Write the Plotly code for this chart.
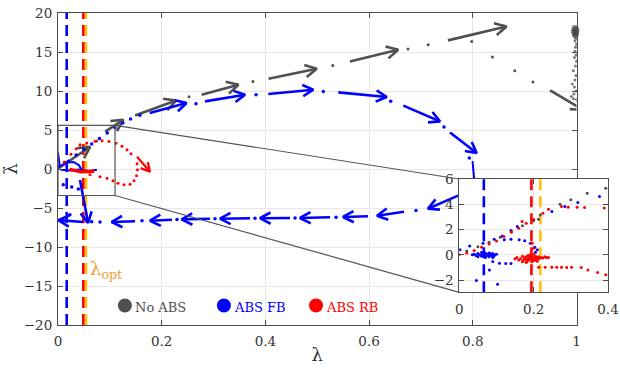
import math
import plotly.graph_objects as go

# ---------------- data ----------------
thr_colors = ["#0000FF", "#FFC000", "#FF0000"]
thr_main = [0.0168, 0.0540, 0.0488]
thr_inset = [0.066, 0.218, 0.194]

gray_tx = [0.002, 0.091, 0.1485, 0.277, 0.406, 0.563, 0.752, 0.949]
gray_ty = [0.15, 4.8, 6.86, 9.53, 11.58, 13.79, 16.49, 10.08]
gray_hx = [0.062, 0.126, 0.2276, 0.348, 0.499, 0.656, 0.865, 1.012]
gray_hy = [2.85, 6.3, 8.78, 10.8, 12.86, 15.29, 18.28, 7.6]
gray_px = [0.075, 0.2527, 0.376, 0.530, 0.675, 0.714, 0.798, 0.838, 0.881, 0.916]
gray_py = [3.6, 9.27, 11.23, 13.28, 15.38, 15.94, 16.36, 14.36, 12.6, 11.15]
gray_cx = [0.997, 0.999, 0.995, 0.998, 1.0, 0.996, 0.999, 0.997, 1.0, 0.998, 0.997, 0.999,
           0.996, 1.0, 0.998, 0.994, 0.999, 0.997, 0.992, 0.996, 0.999, 0.995, 0.99, 0.994]
gray_cy = [18.0, 17.8, 17.6, 17.4, 17.3, 17.1, 16.8, 16.4, 16.0, 15.6, 15.1, 14.6,
           14.3, 13.8, 13.2, 12.6, 12.0, 11.4, 10.9, 10.5, 10.0, 9.6, 9.3, 9.0]
gray_cs = [7, 7, 6, 6, 5, 5, 4, 3, 3, 3, 3, 3, 3, 3, 3, 3, 3, 3, 3, 3, 3, 3, 3, 3]

blue_tx = [0.177, 0.2835, 0.4056, 0.5406, 0.666, 0.756, 0.7715, 0.6673, 0.5979, 0.5246,
           0.4474, 0.3703, 0.2931, 0.2199, 0.1485, 0.0488, 0.0424]
blue_ty = [7.18, 8.67, 9.62, 9.82, 8.12, 4.69, -3.42, -5.47, -6.05, -6.18,
           -6.28, -6.31, -6.37, -6.5, -6.69, -6.79, -1.4]
blue_hx = [0.248, 0.3607, 0.4924, 0.634, 0.7367, 0.8075, 0.7136, 0.6152, 0.5497, 0.4667,
           0.3895, 0.3124, 0.2386, 0.1774, 0.1036, 0.001, 0.058]
blue_hy = [8.46, 9.53, 10.17, 9.23, 6.10, 2.05, -5.09, -5.99, -6.15, -6.28,
           -6.31, -6.37, -6.46, -6.63, -6.79, -6.56, -6.9]
blue_px = [0.02, 0.035, 0.05, 0.065, 0.08, 0.095, 0.11, 0.125, 0.14, 0.158,
           0.266, 0.382, 0.5117, 0.6417, 0.7445, 0.7933,
           0.6904, 0.5362, 0.4571, 0.3799, 0.3028, 0.2295, 0.162, 0.081, 0.065,
           0.0102, 0.0264, 0.0392, 0.023]
blue_py = [1.0, 1.8, 2.5, 3.2, 3.9, 4.6, 5.3, 5.9, 6.4, 6.9,
           8.37, 9.53, 9.95, 8.67, 5.38, 1.41,
           -5.32, -6.17, -6.28, -6.31, -6.37, -6.47, -6.65, -6.79, -6.76,
           -2.01, -2.31, -2.56, -5.86]
blue_lx = [0.7995, 0.8025, None, 0.0, 0.003, 0.0, None, 0.003, 0.015, 0.03, 0.04, 0.045, None,
           0.005, 0.025, 0.04, 0.06, 0.075]
blue_ly = [1.0, -1.2, None, 2.1, 0.6, 0.0, None, 0.3, 0.8, 0.9, 0.5, 0.0, None,
           -0.1, -0.2, -0.05, -0.25, -0.1]

red_tx = [0.1524]
red_ty = [1.58]
red_hx = [0.1774]
red_hy = [-0.35]
red_px = [0.012, 0.025, 0.035, 0.0424, 0.0554, 0.0714, 0.0849, 0.0984, 0.1119, 0.1234, 0.1331, 0.1408,
          0.0617, 0.081, 0.0945, 0.106, 0.1157, 0.1273, 0.1389, 0.1466, 0.1514, 0.1533, 0.1524]
red_py = [0.9, 1.9, 2.6, 3.12, 3.33, 3.56, 3.63, 3.54, 3.31, 2.92, 2.47, 1.96,
          -0.73, -0.99, -1.18, -1.5, -1.82, -2.01, -1.95, -1.5, -0.86, -0.09, 0.68]
red_lx = [0.022, 0.045, 0.07]
red_ly = [-0.05, -0.35, -0.3]

in_gray_x = [0.02, 0.05, 0.08, 0.11, 0.14, 0.17, 0.2, 0.213, 0.218, 0.271, 0.30, 0.344, 0.394]
in_gray_y = [0.3, 0.65, 1.0, 1.4, 1.8, 2.3, 2.7, 2.82, 3.16, 4.0, 4.35, 4.88, 5.27]
in_red_x = [0.0, 0.02, 0.04, 0.06, 0.08, 0.1, 0.12, 0.14, 0.16, 0.169, 0.18, 0.2, 0.225,
            0.24, 0.275, 0.293, 0.317, 0.337, 0.39,
            0.2135, 0.231, 0.249, 0.262, 0.275, 0.289, 0.302, 0.328, 0.346, 0.372, 0.394,
            0.196, 0.2,
            0.15, 0.155, 0.16, 0.165, 0.17, 0.172, 0.175, 0.178, 0.18, 0.183, 0.185, 0.188,
            0.19, 0.192, 0.195, 0.198, 0.2, 0.203, 0.205, 0.208, 0.21, 0.213, 0.215, 0.22,
            0.225, 0.23, 0.235, 0.24, 0.17, 0.18, 0.19, 0.2, 0.21, 0.185, 0.195, 0.205]
in_red_y = [0.0, 0.15, 0.35, 0.6, 0.85, 1.1, 1.45, 1.8, 2.1, 2.63, 2.5, 2.8, 3.3,
            3.6, 3.82, 3.77, 3.77, 3.75, 3.7,
            -0.97, -0.97, -0.98, -0.97, -0.97, -0.99, -0.98, -1.0, -1.19, -1.4, -1.58,
            0.92, 0.53,
            -0.3, -0.2, -0.4, -0.3, -0.1, -0.45, -0.25, -0.35, -0.15, -0.5, -0.3, -0.2,
            -0.4, -0.1, -0.3, -0.2, -0.45, -0.25, -0.1, -0.35, -0.2, -0.15, -0.3, -0.2,
            -0.25, -0.15, -0.2, -0.2, -0.55, -0.6, 0.0, 0.05, -0.5, -0.05, -0.55, -0.4]
in_blue_x = [0.002, 0.028, 0.064, 0.094, 0.116, 0.139, 0.156,
             0.121, 0.139, 0.161, 0.176, 0.191, 0.203, 0.21, 0.205,
             0.035, 0.04, 0.045, 0.05, 0.055, 0.06, 0.062, 0.065, 0.068, 0.07, 0.072, 0.075,
             0.078, 0.08, 0.083, 0.085, 0.088, 0.09, 0.093, 0.095, 0.1, 0.05, 0.06, 0.07, 0.08, 0.09,
             0.09, 0.108, 0.125, 0.139, 0.081, 0.046, 0.103,
             0.249, 0.284, 0.319, 0.377]
in_blue_y = [0.4, 0.71, 0.92, 1.24, 1.5, 1.92, 2.24,
             1.19, 1.24, 1.19, 1.11, 0.92, 0.61, 0.4, 0.2,
             0.0, 0.05, -0.05, 0.1, 0.0, -0.1, 0.1, 0.0, -0.05, 0.15, -0.1, 0.05,
             0.0, -0.15, 0.1, -0.05, 0.0, 0.1, -0.1, 0.0, 0.05, -0.15, 0.2, -0.2, 0.15, -0.2,
             -0.53, -0.66, -0.69, -0.69, -1.19, -2.03, -2.32,
             3.42, 3.82, 4.14, 4.61]

legend_names = ["No ABS", "ABS FB", "ABS RB"]
legend_colors = ["#505050", "#0000FF", "#FF0000"]
legend_x = [0.129, 0.320, 0.4976]
legend_y = [-17.5, -17.5, -17.5]

# ---------------- layout geometry ----------------
W, H = 620, 373
ML, MR, MT, MB = 58, 12, 13, 48
PW, PH = W - ML - MR, H - MT - MB
main_dom_x = [0, 518.5 / PW]
inset_dom_x = [(459.3 - ML) / PW, 1.0]
inset_dom_y = [(H - MB - 292.3) / PH, (H - MB - 179) / PH]
XR, YR = [0, 1], [-20, 20]
IXR, IYR = [0, 0.4], [-2.96, 6]
zoom_box = [0, 0.11, -3.4, 5.6]

sx = main_dom_x[1] * PW / (XR[1] - XR[0])
sy = PH / (YR[1] - YR[0])


def arrow_xy(tx, ty, hx, hy, sx, sy, L=11, ang=28):
    xs, ys, hxs, hys = [], [], [], []
    for x0, y0, x1, y1 in zip(tx, ty, hx, hy):
        dx, dy = (x1 - x0) * sx, (y1 - y0) * sy
        n = math.hypot(dx, dy)
        ux, uy = dx / n, dy / n
        xs += [x0, x1, None]
        ys += [y0, y1, None]
        wings = []
        for s in (1, -1):
            a = math.radians(ang * s)
            wx = ux * math.cos(a) - uy * math.sin(a)
            wy = ux * math.sin(a) + uy * math.cos(a)
            wings.append((x1 - L * wx / sx, y1 - L * wy / sy))
        hxs += [wings[0][0], x1, wings[1][0], None]
        hys += [wings[0][1], y1, wings[1][1], None]
    return xs + hxs, ys + hys


fig = go.Figure()
FONT = "DejaVu Serif"

for c, v in zip(thr_colors, thr_main):
    fig.add_trace(go.Scatter(x=[v, v], y=YR, mode="lines",
                             line=dict(color=c, width=2.6, dash="11px,6px"),
                             xaxis="x", yaxis="y", hoverinfo="skip"))

gx, gy = arrow_xy(gray_tx, gray_ty, gray_hx, gray_hy, sx, sy, L=13)
fig.add_trace(go.Scatter(x=gx, y=gy, mode="lines", line=dict(color="#505050", width=2.6),
                         xaxis="x", yaxis="y"))
fig.add_trace(go.Scatter(x=gray_px, y=gray_py, mode="markers",
                         marker=dict(color="#505050", size=3), xaxis="x", yaxis="y"))
fig.add_trace(go.Scatter(x=gray_cx, y=gray_cy, mode="markers", cliponaxis=False,
                         marker=dict(color="#454545", size=gray_cs, line=dict(width=0)),
                         xaxis="x", yaxis="y"))

bx, by = arrow_xy(blue_tx, blue_ty, blue_hx, blue_hy, sx, sy, L=12)
fig.add_trace(go.Scatter(x=blue_lx, y=blue_ly, mode="lines", line=dict(color="#0000FF", width=2),
                         xaxis="x", yaxis="y"))
fig.add_trace(go.Scatter(x=bx, y=by, mode="lines", line=dict(color="#0000FF", width=2.6),
                         xaxis="x", yaxis="y"))
fig.add_trace(go.Scatter(x=blue_px, y=blue_py, mode="markers",
                         marker=dict(color="#0000FF", size=3.5), xaxis="x", yaxis="y"))

rx, ry = arrow_xy(red_tx, red_ty, red_hx, red_hy, sx, sy, L=10)
fig.add_trace(go.Scatter(x=red_lx, y=red_ly, mode="lines", line=dict(color="#FF0000", width=3.5),
                         xaxis="x", yaxis="y"))
fig.add_trace(go.Scatter(x=rx, y=ry, mode="lines", line=dict(color="#FF0000", width=2.2),
                         xaxis="x", yaxis="y"))
fig.add_trace(go.Scatter(x=red_px, y=red_py, mode="markers",
                         marker=dict(color="#FF0000", size=3), xaxis="x", yaxis="y"))

fig.add_trace(go.Scatter(x=legend_x, y=legend_y, mode="markers",
                         marker=dict(color=legend_colors, size=14), xaxis="x", yaxis="y"))

for c, v in zip(thr_colors, thr_inset):
    fig.add_trace(go.Scatter(x=[v, v], y=IYR, mode="lines",
                             line=dict(color=c, width=2.6, dash="11px,6px"),
                             xaxis="x2", yaxis="y2"))
fig.add_trace(go.Scatter(x=in_gray_x, y=in_gray_y, mode="markers",
                         marker=dict(color="#505050", size=3), xaxis="x2", yaxis="y2"))
fig.add_trace(go.Scatter(x=in_blue_x, y=in_blue_y, mode="markers",
                         marker=dict(color="#0000FF", size=3), xaxis="x2", yaxis="y2"))
fig.add_trace(go.Scatter(x=in_red_x, y=in_red_y, mode="markers",
                         marker=dict(color="#FF0000", size=3), xaxis="x2", yaxis="y2"))

box_col = "#555555"
ix0 = inset_dom_x[0] / main_dom_x[1] * (XR[1] - XR[0]) + XR[0]
iy_top = YR[0] + inset_dom_y[1] * (YR[1] - YR[0])
iy_bot = YR[0] + inset_dom_y[0] * (YR[1] - YR[0])
shapes = [
    dict(type="rect", xref="x2", yref="y2", x0=IXR[0], x1=IXR[1], y0=IYR[0], y1=IYR[1],
         fillcolor="white", line=dict(width=0), layer="below"),
    dict(type="rect", xref="x", yref="y", x0=zoom_box[0], x1=zoom_box[1], y0=zoom_box[2], y1=zoom_box[3],
         line=dict(color=box_col, width=1.2), layer="above"),
    dict(type="line", xref="x", yref="y", x0=zoom_box[1], y0=zoom_box[3], x1=ix0, y1=iy_top,
         line=dict(color=box_col, width=1.2), layer="above"),
    dict(type="line", xref="x", yref="y", x0=zoom_box[1], y0=zoom_box[2], x1=ix0, y1=iy_bot,
         line=dict(color=box_col, width=1.2), layer="above"),
]

annotations = [
    dict(x=0.057, y=-13.0, xref="x", yref="y", text="λ<sub>opt</sub>", showarrow=False,
         xanchor="left", yanchor="middle", font=dict(family=FONT, size=18, color="#EE9F2E")),
]
for name, col, lx, ly in zip(legend_names, legend_colors, legend_x, legend_y):
    annotations.append(dict(x=lx + 0.016, y=ly - 0.2, xref="x", yref="y", text=name, showarrow=False,
                            xanchor="left", yanchor="middle",
                            font=dict(family=FONT, size=13, color=col)))

axis_common = dict(showline=True, linecolor="#4d4d4d", linewidth=1, mirror="ticks",
                   ticks="inside", ticklen=5, tickcolor="#4d4d4d", showgrid=True,
                   gridcolor="#e8e8e8", gridwidth=1, zeroline=False, automargin=False,
                   ticklabeloverflow="allow",
                   tickfont=dict(family=FONT, size=13.5, color="#333333"))

fig.update_layout(
    width=W, height=H, margin=dict(l=ML, r=MR, t=MT, b=MB),
    paper_bgcolor="white", plot_bgcolor="white", showlegend=False,
    font=dict(family=FONT),
    xaxis=dict(domain=main_dom_x, range=XR, tickvals=[0, 0.2, 0.4, 0.6, 0.8, 1],
               ticktext=["0", "0.2", "0.4", "0.6", "0.8", "1"], anchor="y",
               ticklabelstandoff=4,
               title=dict(text="λ", font=dict(family=FONT, size=18, color="#333333"), standoff=0),
               **axis_common),
    yaxis=dict(domain=[0, 1], range=YR, tickvals=list(range(-20, 21, 5)), anchor="x",
               ticklabelstandoff=2,
               title=dict(text="λ\u0307", font=dict(family=FONT, size=18, color="#333333"), standoff=4),
               **axis_common),
    xaxis2=dict(domain=inset_dom_x, range=IXR, tickvals=[0, 0.2, 0.4], ticktext=["0", "0.2", "0.4"],
                anchor="y2", ticklabelstandoff=4, **axis_common),
    yaxis2=dict(domain=inset_dom_y, range=IYR, tickvals=[-2, 0, 2, 4, 6], anchor="x2",
                ticklabelstandoff=2, **axis_common),
    shapes=shapes, annotations=annotations,
)

fig.write_html("out.html")
